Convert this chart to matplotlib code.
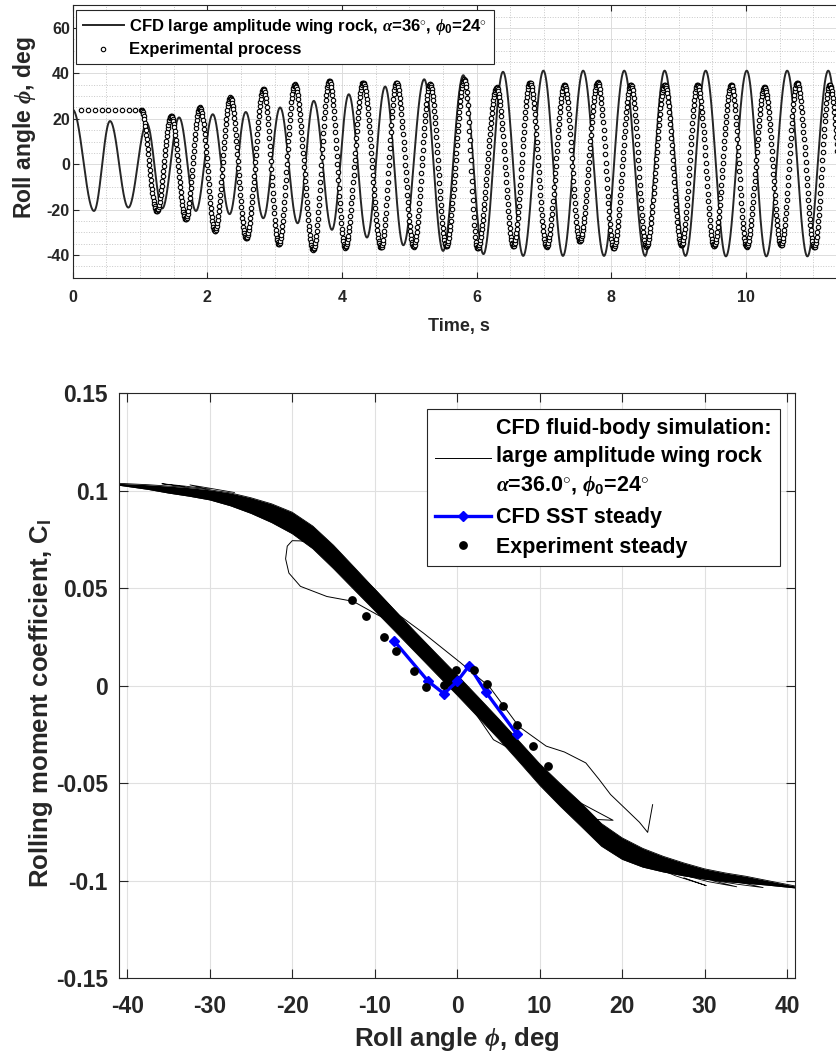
import numpy as np
import matplotlib
matplotlib.use('Agg')
import matplotlib.pyplot as plt
from matplotlib.ticker import MultipleLocator, FixedLocator, FixedFormatter

plt.rcParams['font.family'] = ['Liberation Sans', 'DejaVu Sans']
plt.rcParams['font.weight'] = 'bold'
plt.rcParams['axes.unicode_minus'] = False
plt.rcParams['mathtext.fontset'] = 'custom'
plt.rcParams['mathtext.rm'] = 'Liberation Sans:bold'
plt.rcParams['mathtext.bf'] = 'Liberation Sans:bold'
plt.rcParams['mathtext.it'] = 'Liberation Serif:italic'
plt.rcParams['mathtext.fallback'] = 'cm'

# ---- top plot: roll angle history, extrema ----
cfd_t = [0.0, 0.316, 0.554, 0.826, 1.10, 1.33, 1.58, 1.83, 2.08, 2.33, 2.57,
         2.83, 3.08, 3.34, 3.58, 3.85, 4.10, 4.37, 4.64, 4.91, 5.22, 5.50,
         5.80, 6.10, 6.39, 6.69, 6.99, 7.28, 7.58, 7.89, 8.19, 8.50, 8.79,
         9.10, 9.40, 9.70, 10.01, 10.30, 10.61, 10.91, 11.22, 11.52]
cfd_phi = [24.0, -20.6, 19.0, -19.1, 18.0, -19.5, 20.6, -20.6, 22.0, -22.0, 23.0,
           -23.8, 25.0, -26.0, 27.9, -28.9, 30.8, -32.3, 34.2, -35.7, 37.4, -38.2,
           39.2, -39.6, 40.7, -40.4, 41.2, -40.4, 41.2, -40.4, 41.2, -40.4, 41.2,
           -40.4, 41.2, -40.6, 41.2, -40.6, 41.2, -40.6, 41.2, -40.6]

exp_flat_t = [0.13, 0.23, 0.33, 0.43, 0.53, 0.63, 0.73, 0.83, 0.93]
exp_flat_phi = [24, 24, 24, 24, 24, 24, 24, 24, 24]

exp_t = [1.02, 1.247, 1.46, 1.68, 1.89, 2.11, 2.34, 2.58, 2.83, 3.06, 3.30,
         3.57, 3.81, 4.05, 4.31, 4.58, 4.81, 5.06, 5.305, 5.55, 5.815, 6.01,
         6.30, 6.54, 6.79, 7.04, 7.30, 7.53, 7.80, 8.03, 8.29, 8.52, 8.79,
         9.04, 9.28, 9.52, 9.78, 10.01, 10.27, 10.52, 10.76, 11.01, 11.24, 11.50]
exp_phi = [24.0, -20.6, 21.3, -24.2, 25.0, -29.4, 29.4, -32.7, 33.0, -35.2, 35.2,
           -37.7, 36.7, -36.7, 36.0, -36.7, 36.0, -36.3, 35.2, -36.0, 37.4, -37.1,
           33.8, -36.0, 36.0, -36.3, 35.0, -33.8, 36.0, -37.0, 35.0, -36.3, 35.0,
           -35.7, 35.0, -36.0, 35.0, -36.3, 34.0, -35.7, 36.0, -36.5, 35.0, -36.0]

top_xticks = [0, 2, 4, 6, 8, 10]
top_yticks = [-40, -20, 0, 20, 40, 60]

# ---- bottom plot: rolling moment vs roll angle ----
# edges of the dense band of limit-cycle loops
band_phi = [-41, -37.5, -35, -32.5, -30, -27.5, -25, -22.5, -20, -17.5, -15, -12.5,
            -10, -7.5, -5, -2.5, 0, 2.5, 5, 7.5, 10, 12.5, 15, 17.5, 20, 22.5,
            25, 27.5, 30, 32.5, 35, 37.5, 41]
band_upper = [0.1037, 0.1030, 0.1023, 0.1015, 0.1004, 0.0988, 0.0963, 0.0932, 0.0889,
              0.0818, 0.0720, 0.0608, 0.0495, 0.0383, 0.0272, 0.0163, 0.0055, -0.0056,
              -0.0168, -0.0284, -0.0400, -0.0502, -0.0600, -0.0707, -0.0780, -0.0834,
              -0.0875, -0.0909, -0.0939, -0.0960, -0.0977, -0.0998, -0.1027]
band_lower = [0.1027, 0.1006, 0.0987, 0.0971, 0.0952, 0.0922, 0.0883, 0.0836, 0.0779,
              0.0702, 0.0600, 0.0492, 0.0385, 0.0277, 0.0168, 0.0059, -0.0049, -0.0160,
              -0.0272, -0.0390, -0.0510, -0.0618, -0.0720, -0.0823, -0.0890, -0.0930,
              -0.0955, -0.0975, -0.0991, -0.1004, -0.1013, -0.1022, -0.1037]

transient_phi = [23.7, 23.4, 23.1, 22.1, 20.5, 18.6, 17.2, 15.6, 13.0, 10.8, 7.5,
                 3.9, 0.4, -4.1, -7.0, -10.0, -13.0, -15.5, -17.4, -19.0, -20.0,
                 -20.6, -20.8, -20.4, -19.0, -15.8, -12.6, -9.7, -6.9, -3.7, 0.8,
                 4.4, 8.0, 11.0, 14.9, 18.9, 16.9, 14.1, 11.5]
transient_cl = [-0.0610, -0.0680, -0.0752, -0.0700, -0.0635, -0.0558, -0.0480, -0.0396,
                -0.0340, -0.0310, -0.0210, -0.0005, 0.0118, 0.0270, 0.0360, 0.0495,
                0.0610, 0.0690, 0.0730, 0.0742, 0.0743, 0.0715, 0.0650, 0.0577, 0.0509,
                0.0457, 0.0432, 0.0364, 0.0304, 0.0167, -0.0055, -0.0277, -0.0360,
                -0.0460, -0.0600, -0.0690, -0.0686, -0.0635, -0.0540]

tip_phi = [[22.5, 26.5, 30.2, 27.5], [26.0, 30.5, 33.9, 31.0], [29.0, 34.0, 37.1, 34.5],
           [-27.0, -30.0, -32.4, -30.5], [-30.0, -33.5, -35.8, -33.0]]
tip_cl = [[-0.0905, -0.0975, -0.1025, -0.0985], [-0.0955, -0.1005, -0.1031, -0.1000],
          [-0.0985, -0.1018, -0.1035, -0.1010],
          [0.0990, 0.1012, 0.1029, 0.1008], [0.1008, 0.1025, 0.1035, 0.1018]]

sst_phi = [-7.6, -3.5, -1.6, 0.0, 1.45, 3.5, 7.2]
sst_cl = [0.0227, 0.0022, -0.0041, 0.0022, 0.0102, -0.0034, -0.0246]

exps_phi = [-12.7, -11.05, -8.9, -7.4, -5.2, -3.75, -1.57, -0.12, 2.06, 3.6, 5.6, 7.2, 9.2, 11.05]
exps_cl = [0.0441, 0.0359, 0.0248, 0.0179, 0.0073, -0.0009, 0.0005, 0.0078, 0.0082,
           0.0009, -0.0106, -0.0200, -0.0311, -0.0410]

bot_xticks = [-40, -30, -20, -10, 0, 10, 20, 30, 40]
bot_yticks = [-0.15, -0.1, -0.05, 0, 0.05, 0.1, 0.15]
bot_ylabels = ['-0.15', '-0.1', '-0.05', '0', '0.05', '0.1', '0.15']

AX = '#262626'


# half-cosine swing between successive extrema
def wave(t_ext, v_ext, t):
    t_ext = np.asarray(t_ext, float)
    v_ext = np.asarray(v_ext, float)
    i = np.clip(np.searchsorted(t_ext, t, side='right') - 1, 0, len(t_ext) - 2)
    s = (t - t_ext[i]) / (t_ext[i + 1] - t_ext[i])
    return v_ext[i] + (v_ext[i + 1] - v_ext[i]) * (1 - np.cos(np.pi * s)) / 2


def style_axes(ax, ticklen, labelsize):
    for sp in ax.spines.values():
        sp.set_color(AX)
        sp.set_linewidth(0.8)
    ax.tick_params(which='major', direction='in', length=ticklen, width=0.8,
                   colors=AX, labelsize=labelsize, top=True, right=True)
    ax.tick_params(which='minor', length=0)
    ax.set_axisbelow(True)


fig = plt.figure(figsize=(8.37, 10.55), dpi=100)

# ================= top =================
ax1 = fig.add_axes([72.7 / 837, 1 - 277.7 / 1055, 1 - 72.7 / 837, (277.7 - 5.3) / 1055])
t_fine = np.linspace(cfd_t[0], cfd_t[-1], 8000)
ax1.plot(t_fine, wave(cfd_t, cfd_phi, t_fine), color=AX, lw=1.4,
         label=r'CFD large amplitude wing rock, $\alpha$=36$^{\circ}$, $\phi_\mathrm{0}$=24$^{\circ}$')
t_osc = np.arange(exp_t[0], exp_t[-1], 0.0075)
t_all = np.concatenate([exp_flat_t, t_osc])
phi_all = np.concatenate([exp_flat_phi, wave(exp_t, exp_phi, t_osc)])
ax1.plot(t_all, phi_all, ls='none', marker='o', ms=3.2, mfc='white', mec='black',
         mew=0.8, label='Experimental process')

ax1.set_xlim(0, 11.35)
ax1.set_ylim(-50, 70)
ax1.xaxis.set_major_locator(FixedLocator(top_xticks))
ax1.yaxis.set_major_locator(FixedLocator(top_yticks))
ax1.xaxis.set_minor_locator(MultipleLocator(0.5))
ax1.yaxis.set_minor_locator(MultipleLocator(5))
ax1.grid(which='major', color='#dcdcdc', lw=0.7)
ax1.grid(which='minor', color='#c8c8c8', ls=':', lw=0.7)
style_axes(ax1, 4.5, 11.5)
ax1.spines['right'].set_visible(False)
ax1.tick_params(which='major', right=False)
ax1.tick_params(axis='x', pad=9)
ax1.tick_params(axis='y', pad=2)
ax1.set_xlabel('Time, s', fontsize=13, fontweight='bold', color=AX)
ax1.set_ylabel(r'Roll angle $\phi$, deg', fontsize=16.5, fontweight='bold', color=AX)
ax1.xaxis.set_label_coords(0.505, -0.148)
ax1.yaxis.set_label_coords(-0.046, 0.55)
leg1 = ax1.legend(loc='upper left', bbox_to_anchor=(0.0043, 0.983), borderaxespad=0,
                  fontsize=12, handlelength=2.5, handletextpad=0.3, labelspacing=0.35,
                  borderpad=0.4, fancybox=False, edgecolor=AX, framealpha=1)
leg1.get_frame().set_linewidth(0.8)

# ================= bottom =================
ax2 = fig.add_axes([119 / 837, 1 - 978.3 / 1055, (795.3 - 119) / 837, (978.3 - 393) / 1055])
ax2.fill_between(band_phi, band_lower, band_upper, color='black', lw=0)
ax2.plot(band_phi, band_upper, color='black', lw=0.6)
ax2.plot(band_phi, band_lower, color='black', lw=0.6)
for tp, tc in zip(tip_phi, tip_cl):
    ax2.plot(tp, tc, color='black', lw=0.6)
cfd_line, = ax2.plot(transient_phi, transient_cl, color='black', lw=0.7,
                     label='CFD fluid-body simulation:\nlarge amplitude wing rock\n'
                           r'$\alpha$=36.0$^{\circ}$, $\phi_\mathrm{0}$=24$^{\circ}$')
sst_line, = ax2.plot(sst_phi, sst_cl, color='blue', lw=2.4, marker='D', ms=4.8,
                     label='CFD SST steady')
exp_pts, = ax2.plot(exps_phi, exps_cl, ls='none', marker='o', ms=5.3, color='black',
                    label='Experiment steady')

ax2.set_xlim(-41, 41)
ax2.set_ylim(-0.15, 0.15)
ax2.xaxis.set_major_locator(FixedLocator(bot_xticks))
ax2.yaxis.set_major_locator(FixedLocator(bot_yticks))
ax2.yaxis.set_major_formatter(FixedFormatter(bot_ylabels))
ax2.grid(which='major', color='#e0e0e0', lw=0.8)
style_axes(ax2, 6.5, 16.5)
ax2.tick_params(axis='x', pad=12)
ax2.tick_params(axis='y', pad=8)
ax2.set_xlabel(r'Roll angle $\phi$, deg', fontsize=18.5, fontweight='bold', color=AX)
ax2.set_ylabel(r'Rolling moment coefficient, C$_\mathrm{l}$', fontsize=18.5,
               fontweight='bold', color=AX)
ax2.xaxis.set_label_coords(0.5, -0.08)
ax2.yaxis.set_label_coords(-0.094, 0.47)
leg2 = ax2.legend(handles=[cfd_line, sst_line, exp_pts], loc='upper right',
                  bbox_to_anchor=(0.977, 0.9727), borderaxespad=0, fontsize=15.5,
                  handlelength=2.6, handletextpad=0.2, labelspacing=0.4,
                  borderpad=0.4, fancybox=False, edgecolor=AX, framealpha=1)
leg2.get_frame().set_linewidth(0.8)
for txt in leg2.get_texts():
    txt.set_linespacing(1.45)

fig.savefig('out.png', dpi=100)
